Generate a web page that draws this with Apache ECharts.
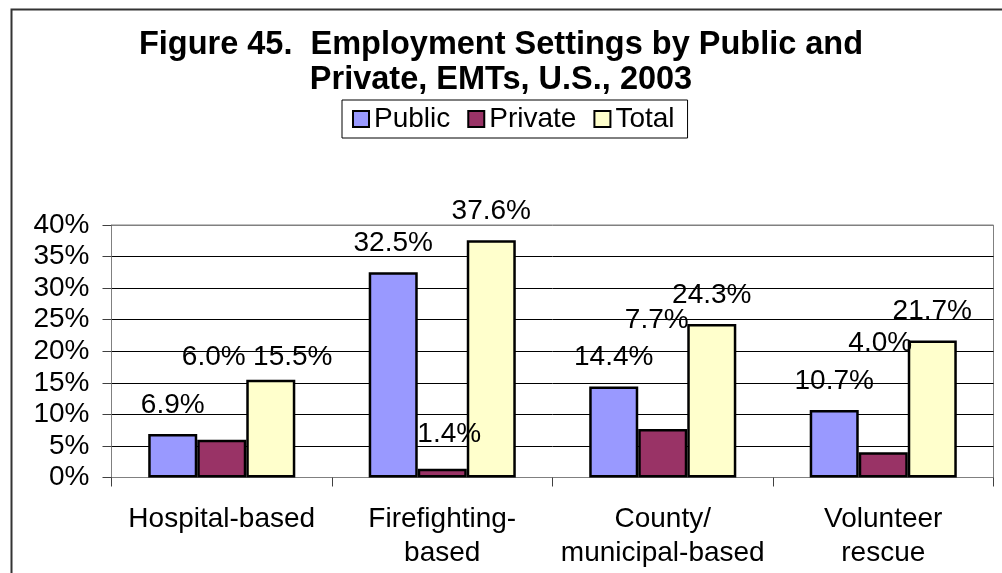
<!DOCTYPE html>
<html>
<head>
<meta charset="utf-8">
<script src="https://cdn.jsdelivr.net/npm/echarts@6/dist/echarts.min.js"></script>
<style>
  html, body { margin: 0; padding: 0; background: #fff; }
  #chart { width: 1002px; height: 573px; }
</style>
</head>
<body>
<div id="chart"></div>
<script>
const titleText = 'Figure 45.  Employment Settings by Public and\nPrivate, EMTs, U.S., 2003';
const categories = ['Hospital-based', 'Firefighting-\nbased', 'County/\nmunicipal-based', 'Volunteer\nrescue'];
const seriesNames = ['Public', 'Private', 'Total'];
const publicValues = [6.9, 32.5, 14.4, 10.7];
const privateValues = [6.0, 1.4, 7.7, 4.0];
const totalValues = [15.5, 37.6, 24.3, 21.7];
const yTicks = { min: 0, max: 40, interval: 5 };

// style: hand-placed label nudges [dx, dy] in pixels (series x category)
const labelNudges = [
  [[0, 0], [0, 0], [0, 0], [0, 0]],
  [[-8, -53], [7, -5], [-6, -80], [-3, -80]],
  [[22, 7], [0, 0], [0, 0], [0, 0]]
];
const colors = ['#9999FF', '#993366', '#FFFFCC'];
const FONT = '"Liberation Sans", Arial, sans-serif';

const valueSets = [publicValues, privateValues, totalValues];

const chart = echarts.init(document.getElementById('chart'), null, { renderer: 'canvas' });

const series = seriesNames.map((name, si) => ({
  name: name,
  type: 'bar',
  barGap: '0%',
  barCategoryGap: '33.3%',
  itemStyle: { color: colors[si], borderColor: '#000', borderWidth: 2.5 },
  label: {
    show: true,
    position: 'top',
    distance: 15,
    color: '#000',
    fontFamily: FONT,
    fontSize: 28,
    formatter: p => p.value.toFixed(1) + '%'
  },
  z: 2,
  data: valueSets[si].map((v, ci) => ({
    value: v,
    label: { offset: labelNudges[si][ci] }
  }))
}));

const option = {
  animation: false,
  backgroundColor: '#fff',
  graphic: [{
    type: 'rect',
    left: 9, top: 7,
    shape: { width: 1100, height: 700 },
    style: { fill: 'none', stroke: '#333', lineWidth: 2 },
    silent: true
  }],
  title: {
    text: titleText,
    left: 'center',
    top: 23,
    textStyle: {
      fontFamily: FONT,
      fontWeight: 'bold',
      fontSize: 32.5,
      lineHeight: 35,
      color: '#000'
    }
  },
  legend: {
    data: seriesNames,
    left: 342,
    top: 100,
    orient: 'horizontal',
    icon: 'rect',
    itemWidth: 16,
    itemHeight: 16,
    itemGap: 17,
    padding: [5, 13, 5, 10],
    borderColor: '#000',
    borderWidth: 1,
    itemStyle: { borderColor: '#000', borderWidth: 2 },
    textStyle: { fontFamily: FONT, fontSize: 28, color: '#000', padding: [0, 0, 0, 0] }
  },
  grid: {
    left: 111.5,
    right: 8.5,
    top: 225,
    bottom: 95.5,
    show: true,
    borderColor: '#808080',
    borderWidth: 1,
    containLabel: false
  },
  xAxis: {
    type: 'category',
    data: categories,
    axisLine: { show: true, lineStyle: { color: '#808080', width: 1 } },
    axisTick: { show: true, alignWithLabel: false, length: 9, lineStyle: { color: '#404040' } },
    axisLabel: {
      fontFamily: FONT,
      fontSize: 28,
      lineHeight: 34,
      color: '#000',
      margin: 25,
      interval: 0
    }
  },
  yAxis: {
    type: 'value',
    min: yTicks.min,
    max: yTicks.max,
    interval: yTicks.interval,
    axisLine: { show: true, lineStyle: { color: '#808080', width: 1 } },
    axisTick: { show: true, length: 9, lineStyle: { color: '#404040' } },
    splitLine: {
      show: true,
      lineStyle: { color: ['#808080', '#000', '#000', '#000', '#000', '#000', '#000', '#000', '#808080'], width: 1 }
    },
    axisLabel: {
      fontFamily: FONT,
      fontSize: 28,
      color: '#000',
      margin: 22,
      formatter: '{value}%'
    }
  },
  series: series
};

chart.setOption(option);
</script>
</body>
</html>
